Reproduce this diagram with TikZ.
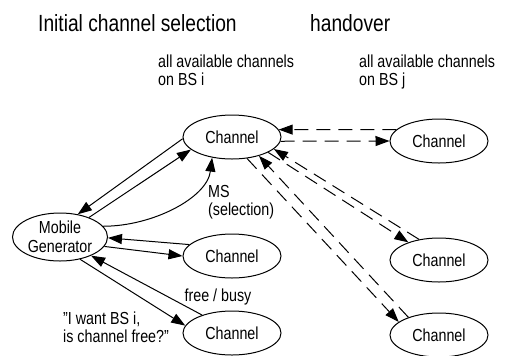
\documentclass[tikz,border=0pt]{standalone}
\usepackage{fontspec}
\setmainfont[FakeStretch=0.82]{Liberation Sans}
\usetikzlibrary{shapes.geometric,arrows.meta}
\begin{document}
\begin{tikzpicture}[x=1bp,y=-1bp,
  chan/.style={ellipse,draw,line width=1bp,minimum width=98bp,minimum height=44bp,inner sep=0pt,font=\fontsize{17.5}{19}\selectfont},
  lbl/.style={inner sep=0pt,font=\fontsize{17.5}{18}\selectfont,align=left},
  ttl/.style={inner sep=0pt,font=\fontsize{23.5}{26}\selectfont,anchor=base west},
  conn/.style={line width=1bp,-{Triangle[length=14bp,width=10bp]}},
  dconn/.style={conn,dash pattern=on 14bp off 8bp}]
\useasboundingbox (0,0) rectangle (505,355);
% nodes
\node[chan] (c1) at (232,137) {Channel};
\node[chan] (c2) at (232,256) {Channel};
\node[chan] (c3) at (232,333) {Channel};
\node[chan] (r1) at (439,141) {Channel};
\node[chan] (r2) at (439,260) {Channel};
\node[chan] (r3) at (439,335) {Channel};
\node[chan,minimum width=95bp,minimum height=48bp,align=center] (mg) at (60,237) {Mobile\\Generator};
% solid connectors
\draw[conn] (c1.182) -- (mg.52);
\draw[conn] (mg.34) -- (c1.197);
\draw[conn] (mg.14) .. controls +(50,0) and +(-5,40) .. (c1.226);
\draw[conn] (c2.165) -- (mg.-1);
\draw[conn] (mg.-12) -- (c2.180);
\draw[conn] (c3.149) -- (mg.-31);
\draw[conn] (mg.-48) -- (c3.171);
% dashed connectors
\draw[dconn] (r1.165) -- (c1.9);
\draw[dconn] (c1.-5) -- (r1.180);
\draw[dconn] (c1.-23) -- (r2.150);
\draw[dconn] (r2.134) -- (c1.-16);
\draw[dconn] (c1.-55) -- (r3.162);
\draw[dconn] (r3.150) -- (c1.-35);
% texts
\node[ttl] (t1) at (38,31) {Initial channel selection};
\node[ttl] (t2) at (310,31) {handover};
\node[lbl,anchor=north west] (bsi) at (158,55) {all available channels\\on BS i};
\node[lbl,anchor=north west] (bsj) at (359,55) {all available channels\\on BS j};
\node[lbl,anchor=north west] (ms) at (208,185) {MS\\(selection)};
\node[lbl] (fb) at (218,297) {free / busy};
\node[lbl,anchor=north west] (q) at (63,312) {\char34 I want BS i,\\is channel free?\char34};
\end{tikzpicture}
\end{document}
